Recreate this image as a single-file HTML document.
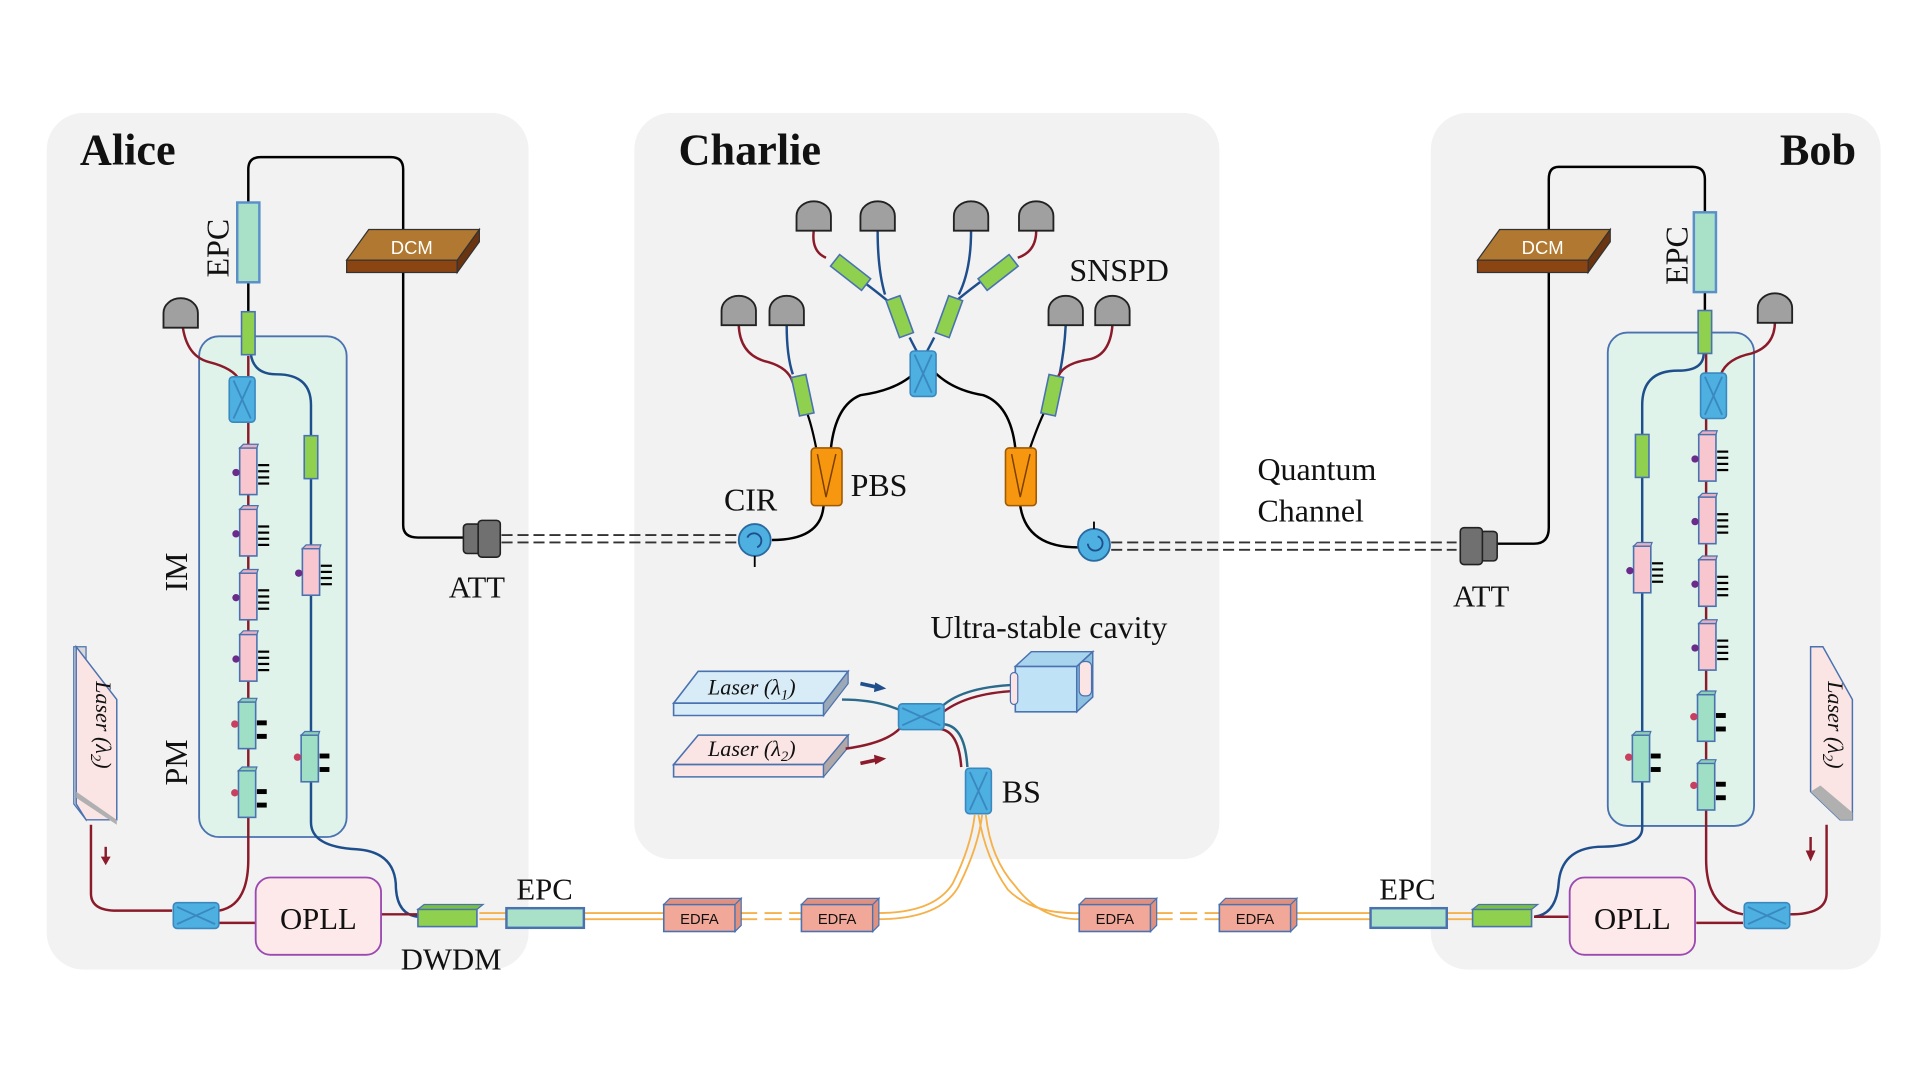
<!DOCTYPE html>
<html><head><meta charset="utf-8"><style>
html,body{margin:0;padding:0;background:#fff;width:1920px;height:1080px;overflow:hidden}
svg{display:block}
text{font-family:"Liberation Serif",serif;fill:#111}
.s{font-family:"Liberation Sans",sans-serif}
</style></head><body>
<svg width="1920" height="1080" viewBox="0 0 1562 880" preserveAspectRatio="none" xmlns="http://www.w3.org/2000/svg">
<defs>
<g id="mod"><rect x="-7" y="-18" width="14" height="38" fill="#f7c6cf" stroke="#4a72b0" stroke-width="1.3"/><path d="M-7,-18 l3,-3 h12 l-1,3z" fill="#e8b0c0" stroke="#4a72b0" stroke-width="1"/><circle cx="-10" cy="2" r="3" fill="#6a2b8a"/><g stroke="#000" stroke-width="1.8"><line x1="8" y1="-4" x2="17" y2="-4"/><line x1="8" y1="1" x2="17" y2="1"/><line x1="8" y1="6" x2="17" y2="6"/><line x1="8" y1="11" x2="17" y2="11"/></g></g>
<g id="pm"><rect x="-7" y="-18" width="14" height="38" fill="#9fdfc6" stroke="#4a72b0" stroke-width="1.3"/><path d="M-7,-18 l3,-3 h12 l-1,3z" fill="#8ccfb6" stroke="#4a72b0" stroke-width="1"/><circle cx="-10" cy="0" r="3" fill="#c84060"/><rect x="8" y="-3" width="8" height="4" fill="#000"/><rect x="8" y="8" width="8" height="4" fill="#000"/></g>
<g id="gb"><rect x="-5.5" y="-17" width="11" height="35" fill="#8fd14f" stroke="#4a72b0" stroke-width="1.3"/></g>
<g id="bsv"><rect x="-10.5" y="-18" width="21" height="37" rx="3" fill="#4db0e0" stroke="#3a88c0" stroke-width="1.3"/><path d="M-7,-15 L7,16 M7,-15 L-7,16" stroke="#3a88c0" stroke-width="1.5"/></g>
<g id="bsh"><rect x="-18" y="-10.5" width="37" height="21" rx="3" fill="#4db0e0" stroke="#3a88c0" stroke-width="1.3"/><path d="M-15,-7 L16,7 M-15,7 L16,-7" stroke="#3a88c0" stroke-width="1.5"/></g>
<g id="det"><path d="M-14,12 L-14,0 A14,12 0 0 1 14,0 L14,12 Z" fill="#a0a0a0" stroke="#222" stroke-width="1.5"/></g>
<g id="att"><rect x="0" y="-12" width="14" height="24" rx="3" fill="#707070" stroke="#222" stroke-width="1.3"/><rect x="12" y="-15" width="18" height="30" rx="3" fill="#707070" stroke="#222" stroke-width="1.3"/></g>
<g id="edfa"><rect x="0" y="0" width="58" height="22" fill="#f2a898" stroke="#4a72b0" stroke-width="1.3"/><path d="M0,0 l5,-5 h58 l-5,5z M58,0 l5,-5 v22 l-5,5z" fill="#e0907f" stroke="#4a72b0" stroke-width="1"/><text x="29" y="16" class="s" font-size="12" text-anchor="middle">EDFA</text></g>
<g id="gsmall"><rect x="-6" y="-16" width="12" height="32" fill="#8fd14f" stroke="#4a72b0" stroke-width="1.3"/></g>
</defs>

<rect x="38" y="92" width="392" height="698" rx="30" fill="#f2f2f2"/>
<rect x="516" y="92" width="476" height="608" rx="30" fill="#f2f2f2"/>
<rect x="1164" y="92" width="366" height="698" rx="30" fill="#f2f2f2"/>
<text x="65" y="134" font-size="36" font-weight="bold">Alice</text>
<text x="552" y="134" font-size="36" font-weight="bold">Charlie</text>
<text x="1448" y="134" font-size="36" font-weight="bold">Bob</text>

<rect x="162" y="274" width="120" height="408" rx="16" fill="#dff3ea" stroke="#4a72b0" stroke-width="1.5"/>
<path d="M202,165 V138 Q202,128 212,128 H318 Q328,128 328,138 V428 Q328,438 340,438 H378" fill="none" stroke="#000" stroke-width="2"/>
<line x1="202" y1="230" x2="202" y2="255" stroke="#000" stroke-width="2"/>
<rect x="193" y="165" width="18" height="65" fill="#a8e0c8" stroke="#5a8fc8" stroke-width="2"/>
<text transform="translate(186,226) rotate(-90)" font-size="26">EPC</text>
<polygon points="300,187 390,187 372,212 282,212" fill="#b07830" stroke="#333" stroke-width="1"/>
<polygon points="282,212 372,212 372,222 282,222" fill="#8b4513" stroke="#333" stroke-width="1"/>
<polygon points="372,212 390,187 390,197 372,222" fill="#6b3410" stroke="#333" stroke-width="1"/>
<text x="335" y="207" class="s" font-size="15" text-anchor="middle" style="fill:#fff">DCM</text>
<path d="M202,290 V700 Q202,738 178,742" fill="none" stroke="#8b1a2a" stroke-width="2"/>
<path d="M148,260 Q150,290 170,295 Q190,300 195,310" fill="none" stroke="#8b1a2a" stroke-width="2"/>
<path d="M204,288 Q206,305 225,305 Q253,305 253,330 V670 Q253,690 290,692 Q320,694 322,720 Q322,745 340,747" fill="none" stroke="#1f4e8c" stroke-width="2"/>
<use href="#det" x="147" y="255"/>
<use href="#gb" x="202" y="271"/>
<use href="#bsv" x="197" y="325"/>
<use href="#mod" x="202" y="383"/>
<use href="#mod" x="202" y="433"/>
<use href="#mod" x="202" y="485"/>
<use href="#mod" x="202" y="535"/>
<use href="#pm" x="201" y="590"/>
<use href="#pm" x="201" y="646"/>
<use href="#gb" x="253" y="372"/>
<use href="#mod" x="253" y="465"/>
<use href="#pm" x="252" y="617"/>
<text transform="translate(152,482) rotate(-90)" font-size="26">IM</text>
<text transform="translate(152,640) rotate(-90)" font-size="26">PM</text>
<polygon points="60,527 70,527 70,668 60,655" fill="#d8d8d8" stroke="#4a72b0"/>
<polygon points="62,527 95,570 95,668 70,668 62,655" fill="#fbe4e4" stroke="#4a72b0" stroke-width="1.2"/>
<polygon points="62,645 95,668 95,672 62,650" fill="#b0b0b0"/>
<text transform="translate(78,555) rotate(90)" font-size="18" font-style="italic">Laser (λ<tspan font-size="12" dy="4">2</tspan><tspan dy="-4">)</tspan></text>
<path d="M74,672 V728 Q74,742 95,742 H140" fill="none" stroke="#8b1a2a" stroke-width="2"/>
<path d="M86,690 V700" stroke="#8b1a2a" stroke-width="2"/><polygon points="82,698 90,698 86,705" fill="#8b1a2a"/>
<line x1="178" y1="752" x2="208" y2="752" stroke="#8b1a2a" stroke-width="2"/>
<line x1="310" y1="745" x2="340" y2="745" stroke="#8b1a2a" stroke-width="2"/>
<use href="#bsh" x="159" y="746"/>
<rect x="208" y="715" width="102" height="63" rx="12" fill="#fde8ea" stroke="#9a4ab0" stroke-width="1.5"/>
<text x="259" y="757" font-size="25" text-anchor="middle">OPLL</text>
<rect x="340" y="741" width="48" height="14" fill="#8fd14f" stroke="#4a72b0" stroke-width="1.3"/>
<path d="M340,741 l5,-4 h48 l-5,4z" fill="#7bbf40" stroke="#4a72b0"/>
<text x="367" y="790" font-size="25" text-anchor="middle">DWDM</text>
<use href="#att" x="377" y="439"/>
<text x="388" y="487" font-size="25" text-anchor="middle">ATT</text>
<g fill="none" stroke="#f5b14a" stroke-width="1.5">
<path d="M390,744 H412 M390,749 H412 M475,744 H540 M475,749 H540 M714,744 Q760,744 775,720 Q790,690 793,664 M714,749 Q765,749 780,722 Q796,690 799,664"/>
<path d="M602,744 H652 M602,749 H652" stroke-dasharray="14,6"/>
<path d="M796,664 Q802,700 820,725 Q840,745 878,744 M802,664 Q806,700 826,722 Q846,749 878,749"/>
<path d="M940,744 H992 M940,749 H992" stroke-dasharray="14,6"/>
<path d="M1053,744 H1115 M1053,749 H1115 M1177,744 H1198 M1177,749 H1198"/>
</g>
<rect x="412" y="740" width="63" height="16" fill="#a8e0c8" stroke="#4a72b0" stroke-width="2"/>
<text x="443" y="733" font-size="25" text-anchor="middle">EPC</text>
<use href="#edfa" x="540" y="737"/>
<use href="#edfa" x="652" y="737"/>
<use href="#edfa" x="878" y="737"/>
<use href="#edfa" x="992" y="737"/>
<g stroke="#333" stroke-width="1.5" stroke-dasharray="9,4"><line x1="408" y1="436" x2="600" y2="436"/><line x1="408" y1="442" x2="600" y2="442"/>
<line x1="904" y1="442" x2="1185" y2="442"/><line x1="904" y1="448" x2="1185" y2="448"/></g>

<path d="M628,440 Q668,440 670,412 M676,365 Q680,330 700,322 Q730,318 745,303 M760,303 Q775,318 800,322 Q822,330 826,365 M830,412 Q835,446 877,446" fill="none" stroke="#000" stroke-width="2"/>
<path d="M664,365 Q660,345 656,335" fill="none" stroke="#000" stroke-width="1.8"/>
<path d="M838,365 Q845,345 850,335" fill="none" stroke="#000" stroke-width="1.8"/>
<rect x="660" y="365" width="25" height="47" rx="3" fill="#f7960f" stroke="#a05a00" stroke-width="1.3"/>
<path d="M665,370 L672,405 L680,370" fill="none" stroke="#7a4000" stroke-width="1.2"/>
<rect x="818" y="365" width="25" height="47" rx="3" fill="#f7960f" stroke="#a05a00" stroke-width="1.3"/>
<path d="M823,370 L830,405 L838,370" fill="none" stroke="#7a4000" stroke-width="1.2"/>
<text x="692" y="404" font-size="26">PBS</text>
<circle cx="614" cy="440" r="13" fill="#4db0e0" stroke="#2a6aa0" stroke-width="1.5"/>
<path d="M608,438 A6,6 0 1 1 616,446" fill="none" stroke="#1f4e8c" stroke-width="1.5"/>
<line x1="614" y1="453" x2="614" y2="462" stroke="#000" stroke-width="1.5"/>
<text x="589" y="416" font-size="26">CIR</text>
<circle cx="890" cy="444" r="13" fill="#4db0e0" stroke="#2a6aa0" stroke-width="1.5"/>
<path d="M885,443 A6,6 0 1 0 893,437" fill="none" stroke="#1f4e8c" stroke-width="1.5"/>
<line x1="890" y1="431" x2="890" y2="425" stroke="#000" stroke-width="1.5"/>
<g fill="none" stroke-width="2">
<path d="M601,265 Q602,290 625,295 Q642,300 645,312" stroke="#8b1a2a"/>
<path d="M640,265 Q640,290 645,305" stroke="#1f4e8c"/>
<path d="M662,188 Q660,205 672,210" stroke="#8b1a2a"/>
<path d="M714,188 Q714,220 720,240" stroke="#1f4e8c"/>
<path d="M790,188 Q790,220 780,240" stroke="#1f4e8c"/>
<path d="M843,188 Q843,205 828,210" stroke="#8b1a2a"/>
<path d="M867,265 Q866,285 862,305" stroke="#1f4e8c"/>
<path d="M905,265 Q903,290 885,293 Q862,297 860,310" stroke="#8b1a2a"/>
<path d="M692,222 Q710,235 722,245 M740,275 Q745,285 748,290 M760,275 Q755,285 752,290 M808,222 Q790,235 778,245" stroke="#1f4e8c"/>
</g>
<use href="#det" x="601" y="253"/><use href="#det" x="640" y="253"/>
<use href="#det" x="662" y="176"/><use href="#det" x="714" y="176"/>
<use href="#det" x="790" y="176"/><use href="#det" x="843" y="176"/>
<use href="#det" x="867" y="253"/><use href="#det" x="905" y="253"/>
<use href="#gsmall" transform="translate(653,322) rotate(-12)"/>
<use href="#gsmall" transform="translate(732,258) rotate(-20)"/>
<use href="#gsmall" transform="translate(772,258) rotate(20)"/>
<use href="#gsmall" transform="translate(856,322) rotate(12)"/>
<use href="#gsmall" transform="translate(692,222) rotate(-52)"/>
<use href="#gsmall" transform="translate(812,222) rotate(52)"/>
<use href="#bsv" x="751" y="304"/>
<text x="870" y="229" font-size="26">SNSPD</text>
<text x="1023" y="391" font-size="26">Quantum</text>
<text x="1023" y="425" font-size="26">Channel</text>
<polygon points="568,547 690,547 670,573 548,573" fill="#d8ecf8" stroke="#4a72b0" stroke-width="1.3"/>
<polygon points="548,573 670,573 670,583 548,583" fill="#d8ecf8" stroke="#4a72b0" stroke-width="1.3"/>
<polygon points="670,573 690,547 690,557 670,583" fill="#9aa8b8" stroke="#4a72b0" stroke-width="1"/>
<text x="576" y="566" font-size="18" font-style="italic">Laser (λ<tspan font-size="12" dy="4">1</tspan><tspan dy="-4">)</tspan></text>
<polygon points="568,599 690,599 670,623 548,623" fill="#fbe4e4" stroke="#4a72b0" stroke-width="1.3"/>
<polygon points="548,623 670,623 670,633 548,633" fill="#fbe4e4" stroke="#4a72b0" stroke-width="1.3"/>
<polygon points="670,623 690,599 690,609 670,633" fill="#b0a8a8" stroke="#4a72b0" stroke-width="1"/>
<text x="576" y="616" font-size="18" font-style="italic">Laser (λ<tspan font-size="12" dy="4">2</tspan><tspan dy="-4">)</tspan></text>
<path d="M700,557 L714,560" stroke="#1f4e8c" stroke-width="3"/><polygon points="712,556 721,561 711,564" fill="#1f4e8c"/>
<path d="M700,622 L714,619" stroke="#8b1a2a" stroke-width="3"/><polygon points="711,615 721,618 712,623" fill="#8b1a2a"/>
<path d="M685,570 Q715,570 735,580" fill="none" stroke="#2a6a8a" stroke-width="2"/>
<path d="M688,610 Q725,605 735,590" fill="none" stroke="#8b1a2a" stroke-width="2"/>
<path d="M764,578 Q780,560 826,558" fill="none" stroke="#2a6a8a" stroke-width="2"/>
<path d="M765,582 Q785,565 826,563" fill="none" stroke="#8b1a2a" stroke-width="2"/>
<path d="M766,590 Q785,590 787,625" fill="none" stroke="#2a6a8a" stroke-width="2"/>
<path d="M765,594 Q780,596 782,625" fill="none" stroke="#8b1a2a" stroke-width="2"/>
<use href="#bsh" x="749" y="584"/>
<rect x="826" y="543" width="50" height="37" fill="#bfe2f6" stroke="#4a72b0" stroke-width="1.3"/>
<polygon points="826,543 839,531 889,531 876,543" fill="#a8d4ee" stroke="#4a72b0" stroke-width="1.2"/>
<polygon points="876,543 889,531 889,568 876,580" fill="#8cc0e0" stroke="#4a72b0" stroke-width="1.2"/>
<rect x="822" y="548" width="6" height="26" rx="3" fill="#fbe4e4" stroke="#4a72b0"/>
<rect x="878" y="539" width="10" height="28" rx="4" fill="#fbe4e4" stroke="#4a72b0"/>
<text x="757" y="520" font-size="26">Ultra-stable cavity</text>
<use href="#bsv" x="796" y="644"/>
<text x="815" y="654" font-size="26">BS</text>

<rect x="1308" y="271" width="119" height="402" rx="16" fill="#dff3ea" stroke="#4a72b0" stroke-width="1.5"/>
<path d="M1387,173 V146 Q1387,136 1377,136 H1268 Q1260,136 1260,146 V430 Q1260,443 1248,443 H1218" fill="none" stroke="#000" stroke-width="2"/>
<line x1="1387" y1="238" x2="1387" y2="255" stroke="#000" stroke-width="2"/>
<rect x="1378" y="173" width="18" height="65" fill="#a8e0c8" stroke="#5a8fc8" stroke-width="2"/>
<text transform="translate(1373,232) rotate(-90)" font-size="26">EPC</text>
<polygon points="1220,187 1310,187 1292,212 1202,212" fill="#b07830" stroke="#333" stroke-width="1"/>
<polygon points="1202,212 1292,212 1292,222 1202,222" fill="#8b4513" stroke="#333" stroke-width="1"/>
<polygon points="1292,212 1310,187 1310,197 1292,222" fill="#6b3410" stroke="#333" stroke-width="1"/>
<text x="1255" y="207" class="s" font-size="15" text-anchor="middle" style="fill:#fff">DCM</text>
<use href="#att" transform="translate(1218,445) scale(-1,1)"/>
<text x="1205" y="494" font-size="25" text-anchor="middle">ATT</text>
<path d="M1388,288 V700 Q1388,740 1418,745" fill="none" stroke="#8b1a2a" stroke-width="2"/>
<path d="M1444,262 Q1444,282 1425,288 Q1405,292 1400,305" fill="none" stroke="#8b1a2a" stroke-width="2"/>
<path d="M1386,288 Q1386,302 1365,302 Q1336,302 1336,330 V675 Q1336,690 1300,690 Q1270,692 1268,720 Q1266,745 1248,747" fill="none" stroke="#1f4e8c" stroke-width="2"/>
<use href="#det" x="1444" y="251"/>
<use href="#gb" x="1387" y="270"/>
<use href="#bsv" x="1394" y="322"/>
<use href="#mod" x="1389" y="372"/>
<use href="#mod" x="1389" y="423"/>
<use href="#mod" x="1389" y="474"/>
<use href="#mod" x="1389" y="526"/>
<use href="#pm" x="1388" y="584"/>
<use href="#pm" x="1388" y="640"/>
<use href="#gb" x="1336" y="371"/>
<use href="#mod" x="1336" y="463"/>
<use href="#pm" x="1335" y="617"/>
<polygon points="1473,527 1483,527 1507,570 1507,668 1497,668 1473,645" fill="#fbe4e4" stroke="#4a72b0" stroke-width="1.2"/>
<polygon points="1473,645 1497,668 1507,668 1507,662 1481,640" fill="#b0b0b0"/>
<text transform="translate(1487,555) rotate(90)" font-size="18" font-style="italic">Laser (λ<tspan font-size="12" dy="4">2</tspan><tspan dy="-4">)</tspan></text>
<path d="M1486,672 V728 Q1486,745 1456,745" fill="none" stroke="#8b1a2a" stroke-width="2"/>
<path d="M1473,682 V695" stroke="#8b1a2a" stroke-width="2"/><polygon points="1469,693 1477,693 1473,702" fill="#8b1a2a"/>
<path d="M1418,752 H1380 M1276,747 H1248" stroke="#8b1a2a" stroke-width="2"/>
<use href="#bsh" x="1437" y="746"/>
<rect x="1277" y="715" width="102" height="63" rx="12" fill="#fde8ea" stroke="#9a4ab0" stroke-width="1.5"/>
<text x="1328" y="757" font-size="25" text-anchor="middle">OPLL</text>
<rect x="1198" y="741" width="48" height="14" fill="#8fd14f" stroke="#4a72b0" stroke-width="1.3"/>
<path d="M1198,741 l5,-4 h48 l-5,4z" fill="#7bbf40" stroke="#4a72b0"/>
<rect x="1115" y="740" width="62" height="16" fill="#a8e0c8" stroke="#4a72b0" stroke-width="2"/>
<text x="1145" y="733" font-size="25" text-anchor="middle">EPC</text>
</svg>
</body></html>
